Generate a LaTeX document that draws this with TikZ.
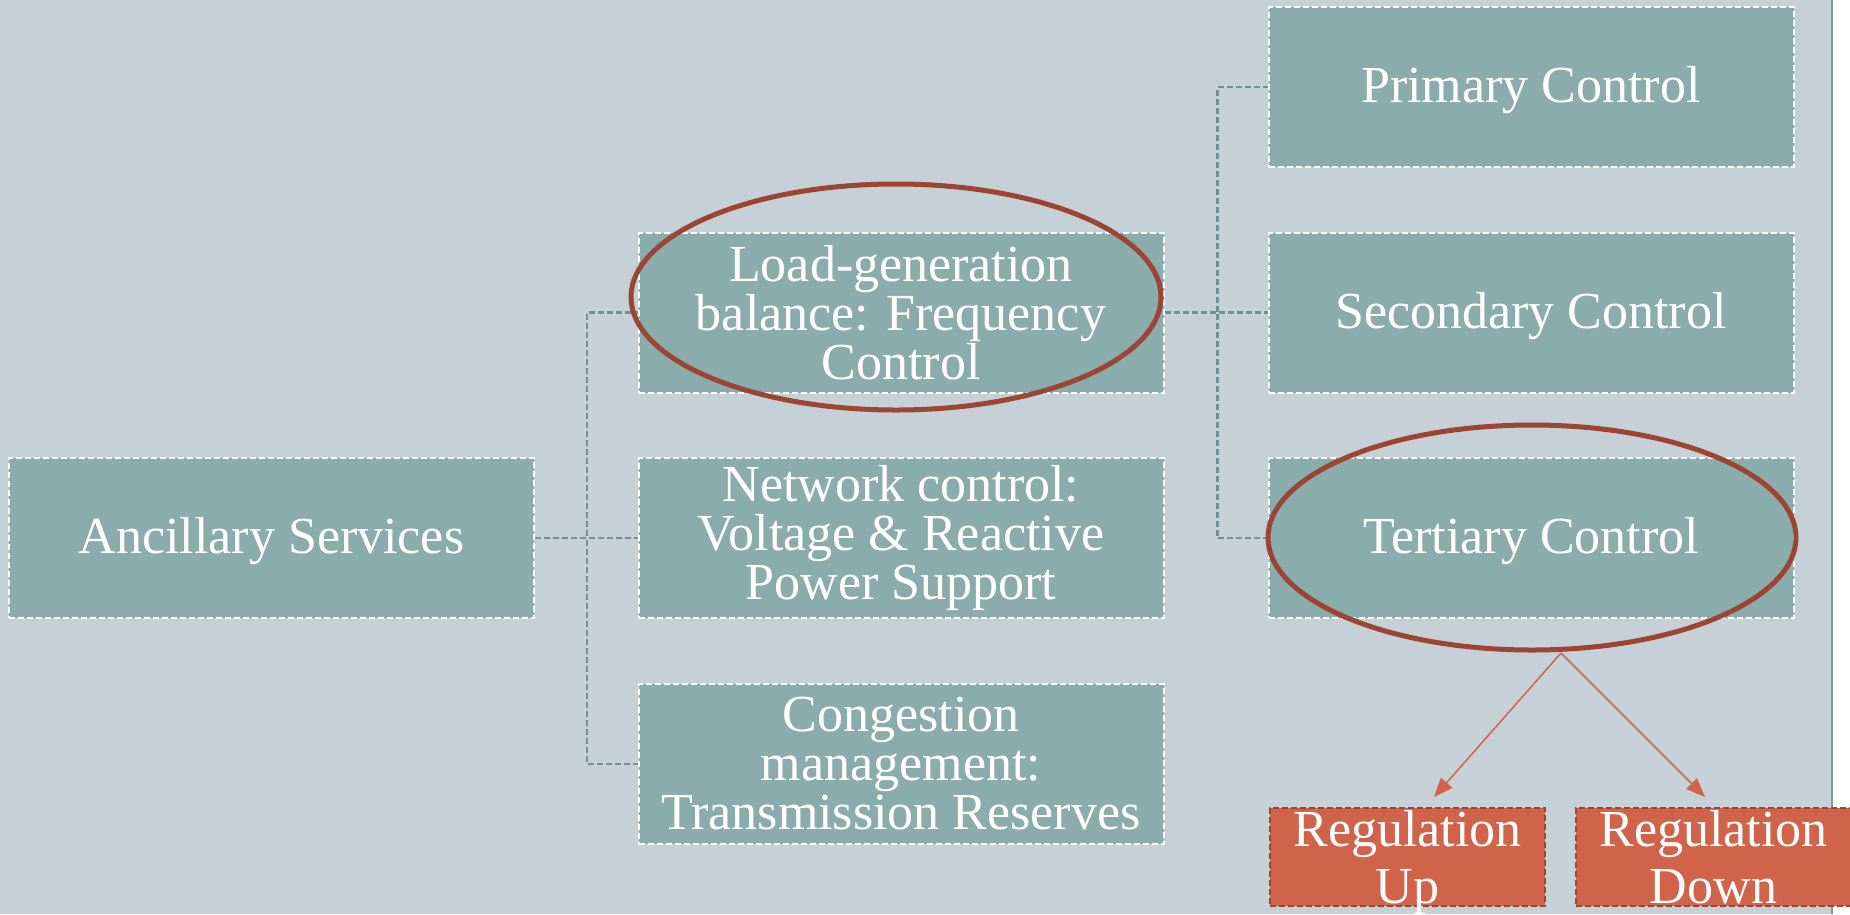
\documentclass[tikz,border=0pt]{standalone}
\usepackage{fontspec}
\setmainfont{Liberation Serif}
\usetikzlibrary{arrows.meta,shapes.geometric}
\definecolor{bgc}{HTML}{C5D1D7}
\definecolor{boxfill}{HTML}{8AACAD}
\definecolor{ellc}{HTML}{9C4533}
\definecolor{regfill}{HTML}{D0634A}
\definecolor{connc}{HTML}{6F9395}
\definecolor{edgec}{HTML}{7C9DA0}
\tikzset{
  box/.style={rectangle, fill=boxfill, draw=white, dash pattern=on 6pt off 3pt,
    line width=2pt, minimum width=525pt, minimum height=160pt, inner sep=0pt,
    text=white, align=center, font=\fontsize{52}{49}\selectfont},
  onebox/.style={box, text depth=5pt},
  regbox/.style={rectangle, fill=regfill, draw=ellc, dash pattern=on 6pt off 3pt,
    line width=2pt, minimum width=275pt, minimum height=98pt, inner sep=0pt,
    text=white, align=center, font=\fontsize{52}{57}\selectfont},
  conn/.style={draw=connc, line width=2.5pt, dash pattern=on 6pt off 3pt},
  ring/.style={ellipse, draw=ellc, line width=5pt, inner sep=0pt},
  arr/.style={draw=regfill, line width=1.5pt, -{Triangle[length=19pt,width=15pt]}}
}
\begin{document}
\begin{tikzpicture}[x=1pt,y=-1pt]
\useasboundingbox (0,0) rectangle (1850,914);
\clip (0,0) rectangle (1850,914);
\fill[bgc] (0,0) rectangle (1850,914);
\fill[white] (1833,0) rectangle (1850,914);
\draw[edgec, line width=2pt] (1832,0) -- (1832,914);

% first level
\node[onebox] (anc) at (271.5,538) {Ancillary Services};
% second level
\node[box] (load) at (901,312.5) {Load-generation\\balance: Frequency\\Control};
\node[box] (net) at (901,538) {Network control:\\Voltage \& Reactive\\Power Support};
\node[box] (cong) at (901,764) {Congestion\\management:\\Transmission Reserves};
% third level
\node[onebox] (prim) at (1531,87) {Primary Control};
\node[onebox] (sec) at (1531,312.5) {Secondary Control};
\node[onebox] (tert) at (1531,538) {Tertiary Control};

% connectors
\draw[conn] (anc.east) -- (net.west);
\draw[conn] (anc.east) -- ++(52,0) |- (load.west);
\draw[conn] (anc.east) -- ++(52,0) |- (cong.west);
\draw[conn] (load.east) -- (sec.west);
\draw[conn] (load.east) -- ++(53,0) |- (prim.west);
\draw[conn] (load.east) -- ++(53,0) |- (tert.west);

% highlight rings
\node[ring, minimum width=530pt, minimum height=226pt] (ring1) at (896,297) {};
\node[ring, minimum width=528pt, minimum height=225pt] (ring2) at (1532,537.5) {};

% regulation boxes
\node[regbox] (regup) at (1407.5,857) {Regulation\\U\smash{p}};
\node[regbox] (regdown) at (1713.5,857) {Regulation\\Down};

\coordinate (fork) at (1561,653);
\coordinate (uptip) at (1434,797);
\coordinate (downtip) at (1705,797);
\draw[arr] (fork) -- (uptip);
\draw[arr] (fork) -- (downtip);
\end{tikzpicture}
\end{document}
